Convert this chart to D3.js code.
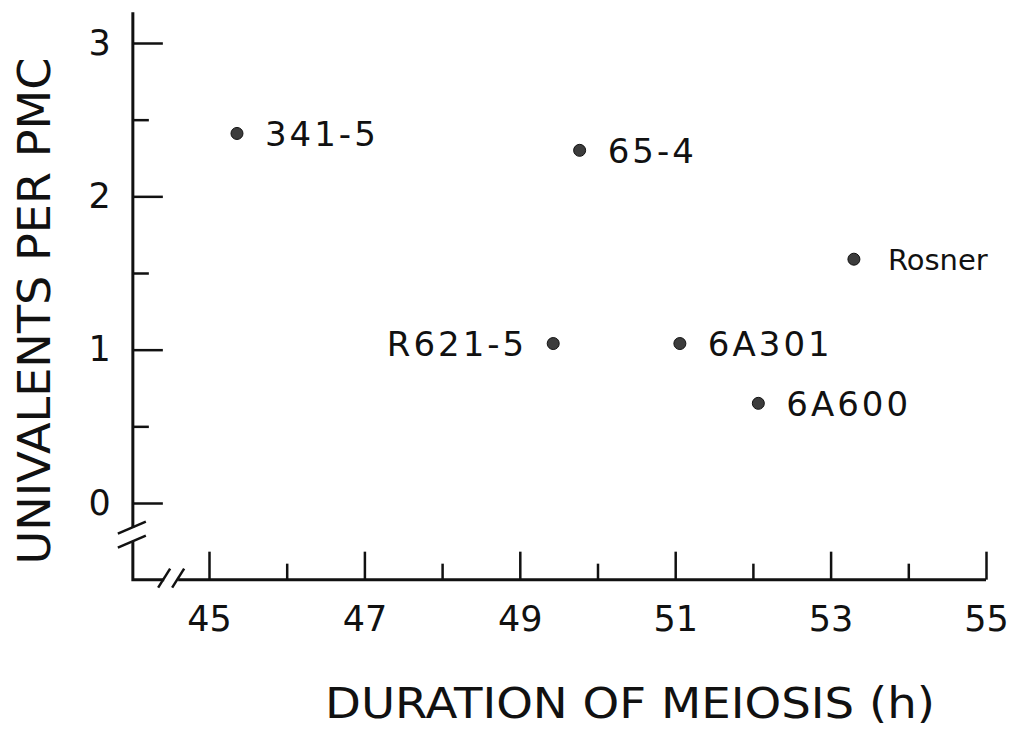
<!DOCTYPE html>
<html>
<head>
<meta charset="utf-8">
<script src="https://cdn.jsdelivr.net/npm/d3@7"></script>
<style>
  body { margin: 0; background: #fff; }
  text { font-family: "DejaVu Sans", "Liberation Sans", sans-serif; fill: #111; }
</style>
</head>
<body>
<div id="chart"></div>
<script>
// data
const strains = ["341-5", "65-4", "Rosner", "R621-5", "6A301", "6A600"];
const duration = [45.36, 49.77, 53.30, 49.43, 51.06, 52.07];
const univalents = [2.41, 2.30, 1.59, 1.04, 1.04, 0.65];
const labelSide = ["right", "right", "right", "left", "right", "right"];

const xMajor = [45, 47, 49, 51, 53, 55];
const xMinor = [46, 48, 50, 52, 54];
const yMajor = [0, 1, 2, 3];
const yMinor = [0.5, 1.5, 2.5];

const W = 1016, H = 730;
const font = "DejaVu Sans, Liberation Sans, sans-serif";

const svg = d3.select("#chart").append("svg")
  .attr("width", W)
  .attr("height", H);

const x = d3.scaleLinear().domain([45, 55]).range([209, 986]);
const y = d3.scaleLinear().domain([0, 3]).range([503, 43]);

const ink = "#111";
const axisY0 = y(-0.5), axisX0 = x(44.02);

// axis lines, with the break marks
const yBreak = y(-0.2), xBreak = x(44.5);
svg.append("path")
  .attr("d", `M${axisX0},${y(3.2)} L${axisX0},${yBreak - 6} M${axisX0},${yBreak + 8} L${axisX0},${axisY0}
              L${xBreak - 6},${axisY0} M${xBreak + 8},${axisY0} L${x(55)},${axisY0}`)
  .attr("fill", "none")
  .attr("stroke", ink)
  .attr("stroke-width", 3);

// slashes
[-6, 8].forEach(o => {
  svg.append("line")
    .attr("x1", axisX0 - 15).attr("y1", yBreak + o + 6)
    .attr("x2", axisX0 + 13).attr("y2", yBreak + o - 6)
    .attr("stroke", ink).attr("stroke-width", 2.5);
  svg.append("line")
    .attr("x1", xBreak + o - 6).attr("y1", axisY0 + 8)
    .attr("x2", xBreak + o + 6).attr("y2", axisY0 - 11)
    .attr("stroke", ink).attr("stroke-width", 2.5);
});

// y axis ticks (pointing inward)
const gy = svg.append("g").attr("transform", `translate(${axisX0},0)`);
gy.call(d3.axisLeft(y).tickValues(yMajor).tickFormat(d3.format("d"))
  .tickSizeInner(-30).tickSizeOuter(0).tickPadding(22));
gy.append("g").call(d3.axisLeft(y).tickValues(yMinor).tickSizeInner(-16).tickSizeOuter(0).tickFormat(""));
gy.selectAll(".domain").remove();
gy.selectAll("line").attr("stroke", ink).attr("stroke-width", 2.5);
gy.selectAll("text")
  .style("font-size", "35px")
  .style("font-family", font)
  .attr("fill", ink);

// x axis ticks (pointing up)
const gx = svg.append("g").attr("transform", `translate(0,${axisY0})`);
gx.call(d3.axisBottom(x).tickValues(xMajor).tickSizeInner(-28).tickSizeOuter(0).tickPadding(20));
gx.append("g").call(d3.axisBottom(x).tickValues(xMinor).tickSizeInner(-16).tickSizeOuter(0).tickFormat(""));
gx.selectAll(".domain").remove();
gx.selectAll("line").attr("stroke", ink).attr("stroke-width", 2.5);
gx.selectAll("text")
  .attr("dy", "0.9em")
  .style("font-size", "35px")
  .style("font-family", font)
  .attr("fill", ink);

// points
const pts = strains.map((s, i) => ({ name: s, dur: duration[i], uni: univalents[i], side: labelSide[i] }));

svg.selectAll(".dot")
  .data(pts)
  .enter()
  .append("circle")
  .attr("class", "dot")
  .attr("cx", d => x(d.dur))
  .attr("cy", d => y(d.uni))
  .attr("r", 6)
  .attr("fill", "#3c3c3c")
  .attr("stroke", "#111")
  .attr("stroke-width", 1);

svg.selectAll(".lbl")
  .data(pts)
  .enter()
  .append("text")
  .attr("class", "lbl")
  .attr("x", d => d.side === "left" ? x(d.dur) - 26 : x(d.dur) + (d.name === "Rosner" ? 34 : 28))
  .attr("y", d => y(d.uni))
  .attr("dy", "0.36em")
  .attr("text-anchor", d => d.side === "left" ? "end" : "start")
  .style("font-size", d => d.name === "Rosner" ? "29px" : "34px")
  .style("letter-spacing", d => d.name === "Rosner" ? "0px" : "3px")
  .text(d => d.name);

// axis titles
svg.append("text")
  .attr("x", 630)
  .attr("y", 718)
  .attr("text-anchor", "middle")
  .attr("textLength", 610)
  .attr("lengthAdjust", "spacingAndGlyphs")
  .style("font-size", "42px")
  .text("DURATION OF MEIOSIS (h)");

svg.append("text")
  .attr("transform", "translate(50,311) rotate(-90)")
  .attr("text-anchor", "middle")
  .attr("textLength", 507)
  .attr("lengthAdjust", "spacingAndGlyphs")
  .style("font-size", "44px")
  .text("UNIVALENTS PER PMC");
</script>
</body>
</html>
